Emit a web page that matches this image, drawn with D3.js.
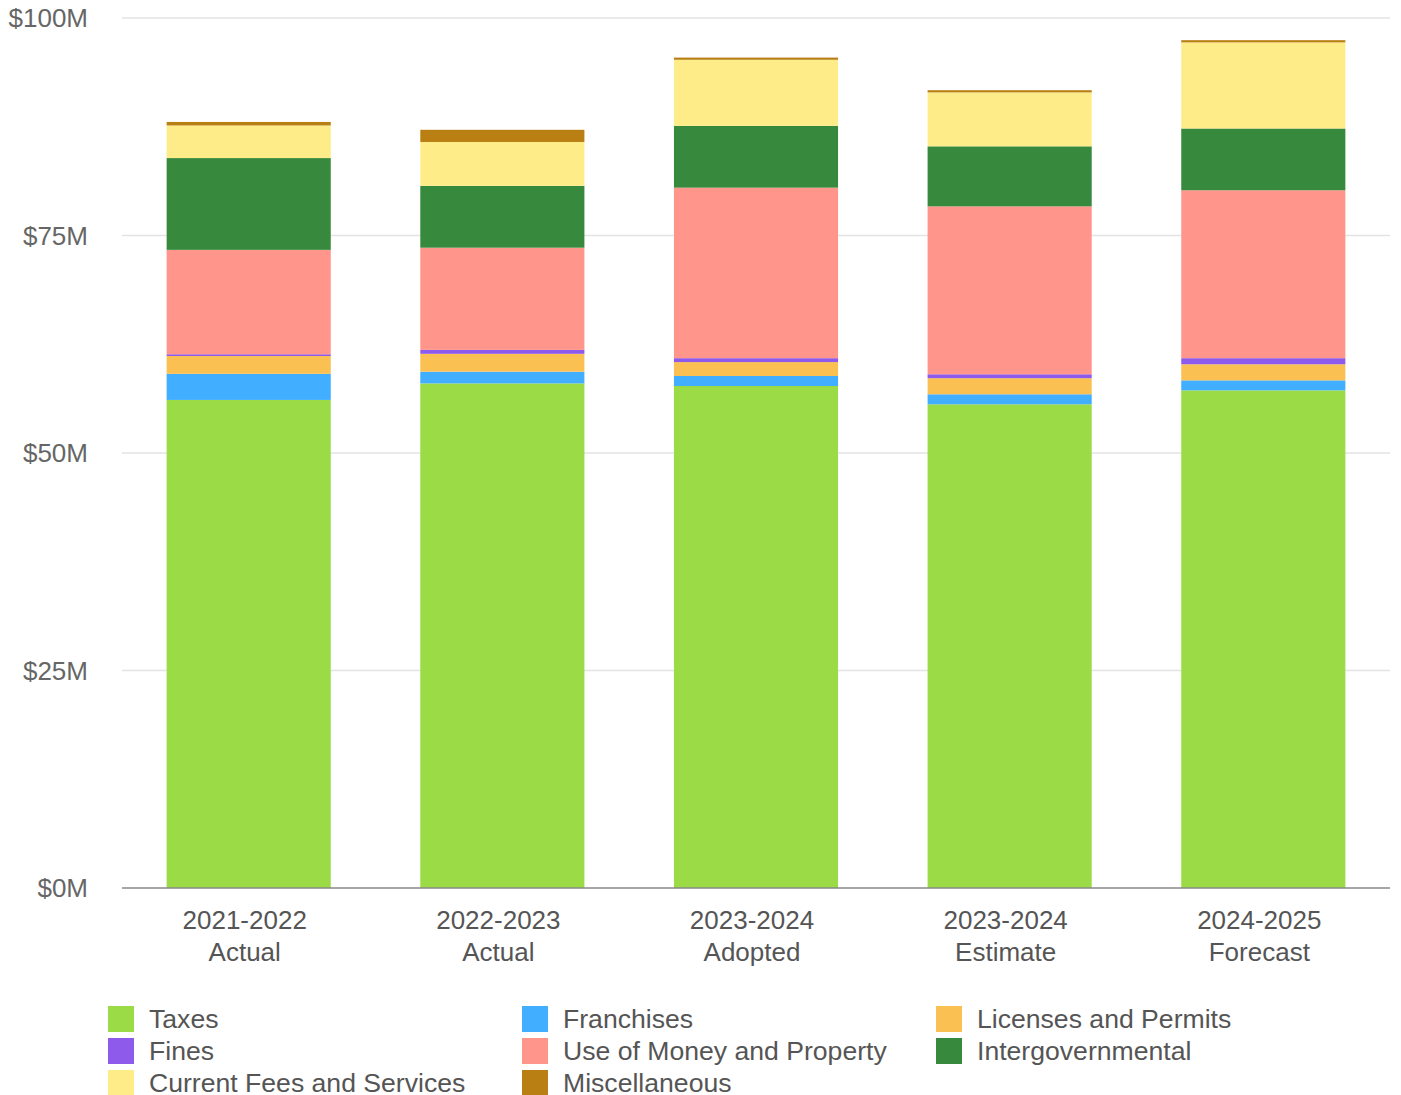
<!DOCTYPE html>
<html>
<head>
  <script src="https://d3js.org/d3.v7.min.js"></script>
  <style>
    body { margin: 0; background: #fff; }
    text { font-family: "Liberation Sans", Arial, sans-serif; }
  </style>
</head>
<body>
  <svg id="chart" width="1401" height="1095"></svg>
  <script>
    // categories (two-line labels)
    var years = ["2021-2022", "2022-2023", "2023-2024", "2023-2024", "2024-2025"];
    var kinds = ["Actual", "Actual", "Adopted", "Estimate", "Forecast"];

    // series, $M
    var seriesNames = ["Taxes", "Franchises", "Licenses and Permits", "Fines",
      "Use of Money and Property", "Intergovernmental", "Current Fees and Services", "Miscellaneous"];
    var taxes        = [56.1, 58.0, 57.7, 55.6, 57.2];
    var franchises   = [3.0, 1.35, 1.15, 1.15, 1.15];
    var licenses     = [2.05, 2.05, 1.6, 1.85, 1.85];
    var fines        = [0.2, 0.45, 0.45, 0.45, 0.7];
    var useOfMoney   = [12.0, 11.75, 19.6, 19.3, 19.3];
    var intergov     = [10.55, 7.1, 7.1, 6.9, 7.1];
    var fees         = [3.75, 5.05, 7.6, 6.2, 9.9];
    var misc         = [0.4, 1.4, 0.25, 0.25, 0.25];
    var colors = ["#9bdb46", "#42aeff", "#fac152", "#8e5aeb", "#ff958b", "#36893d", "#feec88", "#ba7f12"];
    var yTicks = [0, 25, 50, 75, 100];

    var allSeries = [taxes, franchises, licenses, fines, useOfMoney, intergov, fees, misc];
    var rows = years.map(function(y, i) {
      var r = { idx: i };
      seriesNames.forEach(function(n, j) { r[n] = allSeries[j][i]; });
      return r;
    });

    var svg = d3.select("#chart");
    var margin = { left: 122, right: 11, top: 18, bottom: 207 };
    var W = 1401, H = 1095;
    var fs = "26px";

    var x = d3.scaleBand()
      .domain(d3.range(years.length))
      .range([margin.left, W - margin.right])
      .paddingInner(0.353).paddingOuter(0.176);
    var y = d3.scaleLinear().domain([0, 100]).range([H - margin.bottom, margin.top]);

    // gridlines
    svg.append("g").selectAll("line")
      .data(yTicks.filter(function(t){ return t > 0; }))
      .enter().append("line")
      .attr("x1", margin.left).attr("x2", W - margin.right)
      .attr("y1", function(d){ return y(d); }).attr("y2", function(d){ return y(d); })
      .style("stroke", "#e3e3e3").style("stroke-width", 1.5);

    // y labels
    svg.append("g").selectAll("text")
      .data(yTicks).enter().append("text")
      .attr("x", 88).attr("y", function(d){ return y(d); })
      .attr("dy", "0.35em")
      .attr("text-anchor", "end")
      .style("font-size", fs).style("fill", "#666")
      .text(function(d){ return "$" + d + "M"; });

    // stacked bars
    var stack = d3.stack().keys(seriesNames)(rows);
    svg.append("g").selectAll("g")
      .data(stack).enter().append("g")
      .style("fill", function(d, i){ return colors[i]; })
      .selectAll("rect")
      .data(function(d){ return d; })
      .enter().append("rect")
      .attr("x", function(d){ return x(d.data.idx); })
      .attr("width", x.bandwidth())
      .attr("y", function(d){ return y(d[1]); })
      .attr("height", function(d){ return y(d[0]) - y(d[1]); });

    // baseline
    svg.append("line")
      .attr("x1", margin.left).attr("x2", W - margin.right)
      .attr("y1", y(0)).attr("y2", y(0))
      .style("stroke", "#888").style("stroke-width", 1.5);

    // x labels
    function labX(i) { return x(i) + x.bandwidth() / 2 - 4; }
    var xl = svg.append("g").selectAll("text")
      .data(years).enter().append("text")
      .attr("text-anchor", "middle")
      .style("font-size", fs).style("fill", "#555")
      .attr("x", function(d, i){ return labX(i); })
      .attr("y", 929);
    xl.append("tspan").text(function(d){ return d; });
    xl.append("tspan")
      .attr("x", function(d, i){ return labX(i); })
      .attr("dy", 32)
      .text(function(d, i){ return kinds[i]; });

    // legend
    var colX = [108, 522, 936];
    var leg = svg.append("g").selectAll("g")
      .data(seriesNames).enter().append("g")
      .attr("transform", function(d, i){
        return "translate(" + colX[i % 3] + "," + (1019 + Math.floor(i / 3) * 32) + ")";
      });
    leg.append("rect")
      .attr("x", 0).attr("y", -13).attr("width", 26).attr("height", 26)
      .style("fill", function(d, i){ return colors[i]; });
    leg.append("text")
      .attr("x", 41).attr("dy", "0.35em")
      .style("font-size", "26.6px").style("fill", "#555")
      .text(function(d){ return d; });
  </script>
</body>
</html>
